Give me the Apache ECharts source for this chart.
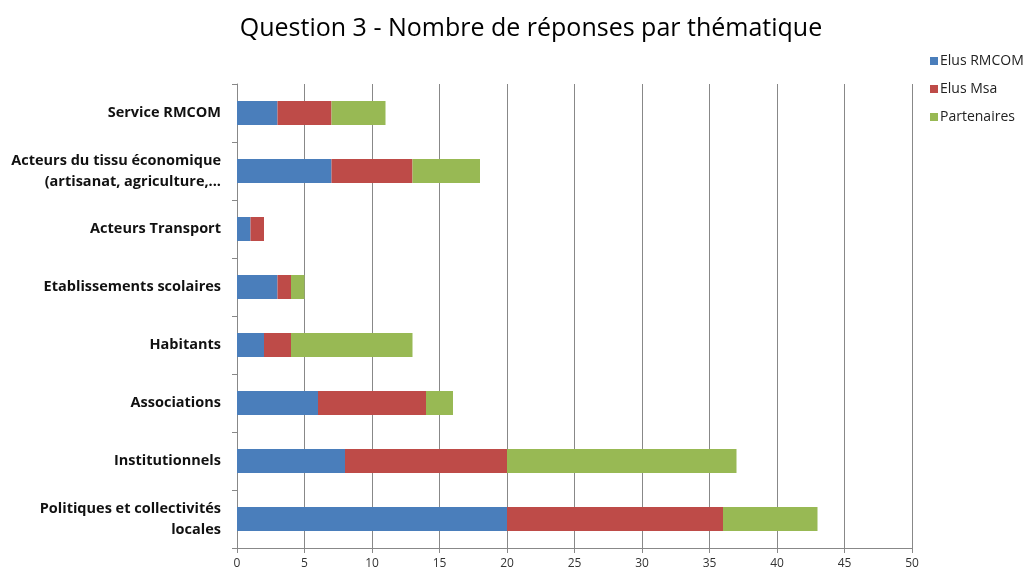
<!DOCTYPE html>
<html><head><meta charset="utf-8">
<script src="https://cdn.jsdelivr.net/npm/echarts@6/dist/echarts.min.js"></script>
<style>html,body{margin:0;padding:0;background:#fff}#c{width:1032px;height:575px}</style>
</head><body><div id="c"></div>
<script>
const categories = [
  "Politiques et collectivités\nlocales",
  "Institutionnels",
  "Associations",
  "Habitants",
  "Etablissements scolaires",
  "Acteurs Transport",
  "Acteurs du tissu économique\n(artisanat, agriculture,...",
  "Service RMCOM"
];
const elusRMCOM = [20, 8, 6, 2, 3, 1, 7, 3];
const elusMsa = [16, 12, 8, 2, 1, 1, 6, 4];
const partenaires = [7, 17, 2, 9, 1, 0, 5, 4];
const seriesNames = ["Elus RMCOM", "Elus Msa", "Partenaires"];
const colors = ["#4a7ebb", "#be4b48", "#98b954"];
const xTicks = { min: 0, max: 50, interval: 5 };

const font = "'Open Sans', 'DejaVu Sans', sans-serif";
const chart = echarts.init(document.getElementById('c'), null, {renderer: 'canvas'});
const mk = (name, data, i) => ({
  name, type: 'bar', stack: 'total', data, barWidth: 24,
  itemStyle: { color: colors[i] }
});
chart.setOption({
  animation: false,
  backgroundColor: '#fff',
  title: {
    text: "Question 3 - Nombre de réponses par thématique",
    left: 526, textAlign: 'center', top: 11,
    textStyle: { fontFamily: font, fontSize: 25, fontWeight: 'normal', color: '#000' }
  },
  legend: {
    orient: 'vertical', left: 925, top: 49, itemGap: 14,
    itemWidth: 8, itemHeight: 8, icon: 'rect',
    textStyle: { fontFamily: font, fontSize: 14, color: '#222', padding: [0,0,0,-3] },
    data: seriesNames
  },
  grid: { left: 237, right: 120, top: 84, bottom: 27, containLabel: false },
  xAxis: {
    type: 'value', min: xTicks.min, max: xTicks.max, interval: xTicks.interval,
    axisLine: { show: true, lineStyle: { color: '#888' } },
    axisTick: { show: true, length: 5, lineStyle: { color: '#888' } },
    axisLabel: { fontFamily: font, fontSize: 12, color: '#333', margin: 10 },
    splitLine: { show: true, lineStyle: { color: '#888', width: 1 } }
  },
  yAxis: {
    type: 'category', data: categories,
    axisLine: { show: true, lineStyle: { color: '#888' } },
    axisTick: { show: true, length: 5, lineStyle: { color: '#888' } },
    axisLabel: { fontFamily: font, fontSize: 14.5, fontWeight: 'bold', color: '#111', margin: 16, lineHeight: 21, align: 'right' },
    splitLine: { show: false }
  },
  series: [
    mk(seriesNames[0], elusRMCOM, 0),
    mk(seriesNames[1], elusMsa, 1),
    mk(seriesNames[2], partenaires, 2)
  ]
});
</script></body></html>
